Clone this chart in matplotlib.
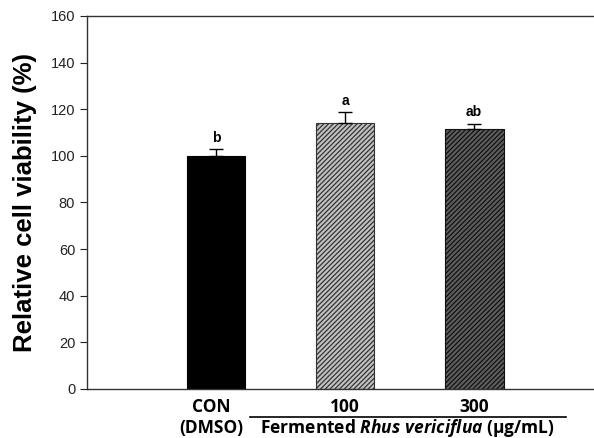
import numpy as np
import matplotlib.pyplot as plt

plt.rcParams['font.family'] = ['Liberation Sans', 'DejaVu Sans']
plt.rcParams['hatch.linewidth'] = 0.9
plt.rcParams['mathtext.fontset'] = 'custom'
plt.rcParams['mathtext.rm'] = 'Open Sans:bold'
plt.rcParams['mathtext.it'] = 'Open Sans:bold:italic'

# data
groups = ['CON', '100', '300']
viability = [100.0, 114.0, 111.7]
sd = [2.8, 4.7, 2.1]
letters = ['b', 'a', 'ab']
face = ['#000000', '#c2c2c2', '#5e5e5e']
edges = ['#000000', '#333333', '#111111']
hatches = ['', '///////', '///////']

fig = plt.figure(figsize=(5.94, 4.38), dpi=100)
ax = fig.add_axes([87 / 594, 49 / 438, 507 / 594, 373 / 438])

x = np.arange(len(groups))
for i in range(len(groups)):
    ax.bar(x[i], viability[i], width=0.457, color=face[i], edgecolor=edges[i],
           linewidth=0.8, hatch=hatches[i], zorder=2)
    ax.errorbar(x[i], viability[i], yerr=[[0], [sd[i]]], fmt='none', ecolor='black',
                elinewidth=1, capsize=5, capthick=1, zorder=3)
    ax.text(x[i], viability[i] + sd[i] + 2.0, letters[i], ha='center', va='bottom',
            fontsize=10, fontweight='bold')

ax.set_xlim(-1.0, 2.93)
ax.set_ylim(0, 160)
ax.set_yticks(range(0, 161, 20))
ax.tick_params(axis='y', direction='out', length=5, width=0.8, labelsize=10.5, colors='#222222')
ax.set_xticks([])
ax.spines['right'].set_visible(False)
for s in ['left', 'top', 'bottom']:
    ax.spines[s].set_linewidth(1.0)
    ax.spines[s].set_color('#333333')

ax.set_ylabel('Relative cell viability (%)', fontsize=18.5, fontweight='bold')
ax.yaxis.set_label_coords(-0.098, 0.50)

# x labels
tr = ax.get_xaxis_transform()
xfont = dict(family='Open Sans', fontweight='bold', fontsize=12.5, ha='center', va='center')
ax.text(x[0] - 0.035, -0.047, 'CON', transform=tr, clip_on=False, **xfont)
ax.text(x[1], -0.047, groups[1], transform=tr, clip_on=False, **xfont)
ax.text(x[2], -0.047, groups[2], transform=tr, clip_on=False, **xfont)
ax.text(x[0] - 0.035, -0.105, '(DMSO)', transform=tr, clip_on=False, **xfont)
ax.text(1.48, -0.105, r'Fermented $\it{Rhus\ vericiflua}$ (μg/mL)', transform=tr,
        clip_on=False, **xfont)
ax.plot([0.26, 2.71], [-0.075, -0.075], transform=tr, color='black', lw=1.2, clip_on=False)

fig.savefig('out.png', dpi=100)
